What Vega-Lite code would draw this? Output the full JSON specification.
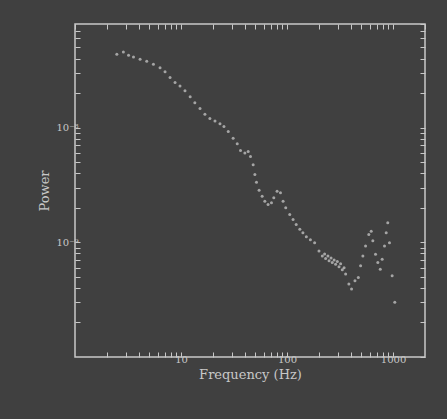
{
  "$schema": "https://vega.github.io/schema/vega-lite/v6.json",
  "autosize": "none",
  "width": 350,
  "height": 333,
  "padding": {"left": 75, "top": 24, "right": 22, "bottom": 62},
  "background": "#404040",
  "config": {
    "view": {"stroke": "#c8c8c8", "strokeWidth": 1.5},
    "axis": {
      "domain": false,
      "grid": false,
      "labelColor": "#c8c8c8",
      "titleColor": "#c8c8c8",
      "labelFont": "DejaVu Serif",
      "titleFont": "DejaVu Serif",
      "labelFontSize": 10,
      "titleFontSize": 13,
      "titleFontWeight": "normal"
    }
  },
  "data": {
    "values": [
      {"f": 2.48, "p": 4.36e-8}, {"f": 2.86, "p": 4.56e-8}, {"f": 3.2, "p": 4.27e-8},
      {"f": 3.56, "p": 4.13e-8}, {"f": 4.11, "p": 3.94e-8}, {"f": 4.75, "p": 3.79e-8},
      {"f": 5.49, "p": 3.57e-8}, {"f": 6.34, "p": 3.32e-8}, {"f": 7.07, "p": 3.06e-8},
      {"f": 7.88, "p": 2.73e-8}, {"f": 8.78, "p": 2.47e-8}, {"f": 9.78, "p": 2.3e-8},
      {"f": 10.9, "p": 2.1e-8}, {"f": 12.2, "p": 1.86e-8}, {"f": 13.5, "p": 1.65e-8},
      {"f": 15.1, "p": 1.47e-8}, {"f": 16.8, "p": 1.31e-8}, {"f": 18.7, "p": 1.2e-8},
      {"f": 20.9, "p": 1.14e-8}, {"f": 23.3, "p": 1.08e-8}, {"f": 25.4, "p": 1.02e-8},
      {"f": 27.9, "p": 9.24e-9}, {"f": 31.0, "p": 8.09e-9}, {"f": 33.9, "p": 7.22e-9},
      {"f": 36.4, "p": 6.32e-9}, {"f": 40.0, "p": 5.99e-9}, {"f": 43.0, "p": 6.2e-9},
      {"f": 45.2, "p": 5.61e-9}, {"f": 47.9, "p": 4.75e-9}, {"f": 49.7, "p": 3.89e-9},
      {"f": 51.5, "p": 3.34e-9}, {"f": 54.5, "p": 2.84e-9}, {"f": 58.2, "p": 2.52e-9},
      {"f": 61.7, "p": 2.28e-9}, {"f": 66.2, "p": 2.14e-9}, {"f": 71.3, "p": 2.21e-9},
      {"f": 75.0, "p": 2.44e-9}, {"f": 80.5, "p": 2.79e-9}, {"f": 86.7, "p": 2.7e-9},
      {"f": 91.7, "p": 2.28e-9}, {"f": 97.2, "p": 2.0e-9}, {"f": 106, "p": 1.75e-9},
      {"f": 114, "p": 1.58e-9}, {"f": 122, "p": 1.43e-9}, {"f": 132, "p": 1.3e-9},
      {"f": 141, "p": 1.21e-9}, {"f": 152, "p": 1.12e-9}, {"f": 166, "p": 1.05e-9},
      {"f": 182, "p": 9.93e-10}, {"f": 200, "p": 8.41e-10}, {"f": 215, "p": 7.61e-10},
      {"f": 231, "p": 7.22e-10}, {"f": 249, "p": 6.89e-10}, {"f": 267, "p": 6.66e-10},
      {"f": 287, "p": 6.45e-10}, {"f": 309, "p": 6.11e-10}, {"f": 332, "p": 5.75e-10},
      {"f": 357, "p": 5.28e-10}, {"f": 383, "p": 4.32e-10}, {"f": 406, "p": 3.91e-10},
      {"f": 437, "p": 4.62e-10}, {"f": 470, "p": 4.94e-10}, {"f": 494, "p": 6.23e-10},
      {"f": 519, "p": 7.61e-10}, {"f": 550, "p": 9.29e-10}, {"f": 590, "p": 1.17e-9},
      {"f": 622, "p": 1.25e-9}, {"f": 644, "p": 1.03e-9}, {"f": 683, "p": 7.87e-10},
      {"f": 718, "p": 6.66e-10}, {"f": 757, "p": 5.83e-10}, {"f": 789, "p": 7.12e-10},
      {"f": 830, "p": 9.29e-10}, {"f": 861, "p": 1.21e-9}, {"f": 891, "p": 1.48e-9},
      {"f": 925, "p": 9.93e-10}, {"f": 980, "p": 5.11e-10}, {"f": 1038, "p": 3.0e-10},
      {"f": 226, "p": 7.9e-10}, {"f": 243, "p": 7.6e-10}, {"f": 260, "p": 7.3e-10},
      {"f": 278, "p": 7.0e-10}, {"f": 298, "p": 6.8e-10}, {"f": 320, "p": 6.5e-10},
      {"f": 345, "p": 6.0e-10}
    ]
  },
  "layer": [
    {
      "mark": {"type": "point", "filled": true, "size": 9, "color": "#d0d0d0"},
      "encoding": {
        "x": {
          "field": "f", "type": "quantitative",
          "scale": {"type": "log", "domain": [1, 2000], "nice": false},
          "axis": {
            "orient": "bottom", "title": "Frequency (Hz)",
            "tickColor": "#c8c8c8", "tickSize": -5,
            "values": [2,3,4,5,6,7,8,9,10,20,30,40,50,60,70,80,90,100,200,300,400,500,600,700,800,900,1000],
            "labelExpr": "datum.value == 10 || datum.value == 100 || datum.value == 1000 ? datum.label : ''",
            "format": "d"
          }
        },
        "y": {
          "field": "p", "type": "quantitative",
          "scale": {"type": "log", "domain": [1e-10, 8e-8], "nice": false},
          "axis": {"orient": "left", "title": "Power", "tickColor": "#c8c8c8", "tickSize": -5,
            "values": [2e-10,3e-10,4e-10,5e-10,6e-10,7e-10,8e-10,9e-10,1e-9,2e-9,3e-9,4e-9,5e-9,6e-9,7e-9,8e-9,9e-9,1e-8,2e-8,3e-8,4e-8,5e-8,6e-8,7e-8],
            "labelExpr": "datum.value > 9.9e-9 && datum.value < 1.1e-8 ? '10⁻⁸' : (datum.value > 9.9e-10 && datum.value < 1.1e-9 ? '10⁻⁹' : '')"}
        }
      }
    },
    {
      "mark": {"type": "point", "opacity": 0},
      "encoding": {
        "x": {
          "field": "f", "type": "quantitative",
          "axis": {"orient": "top", "title": null, "labels": false, "tickColor": "#c8c8c8", "tickSize": -5}
        },
        "y": {
          "field": "p", "type": "quantitative",
          "axis": {"orient": "right", "title": null, "labels": false, "tickColor": "#c8c8c8", "tickSize": -5}
        }
      }
    }
  ],
  "resolve": {"axis": {"x": "independent", "y": "independent"}}
}
